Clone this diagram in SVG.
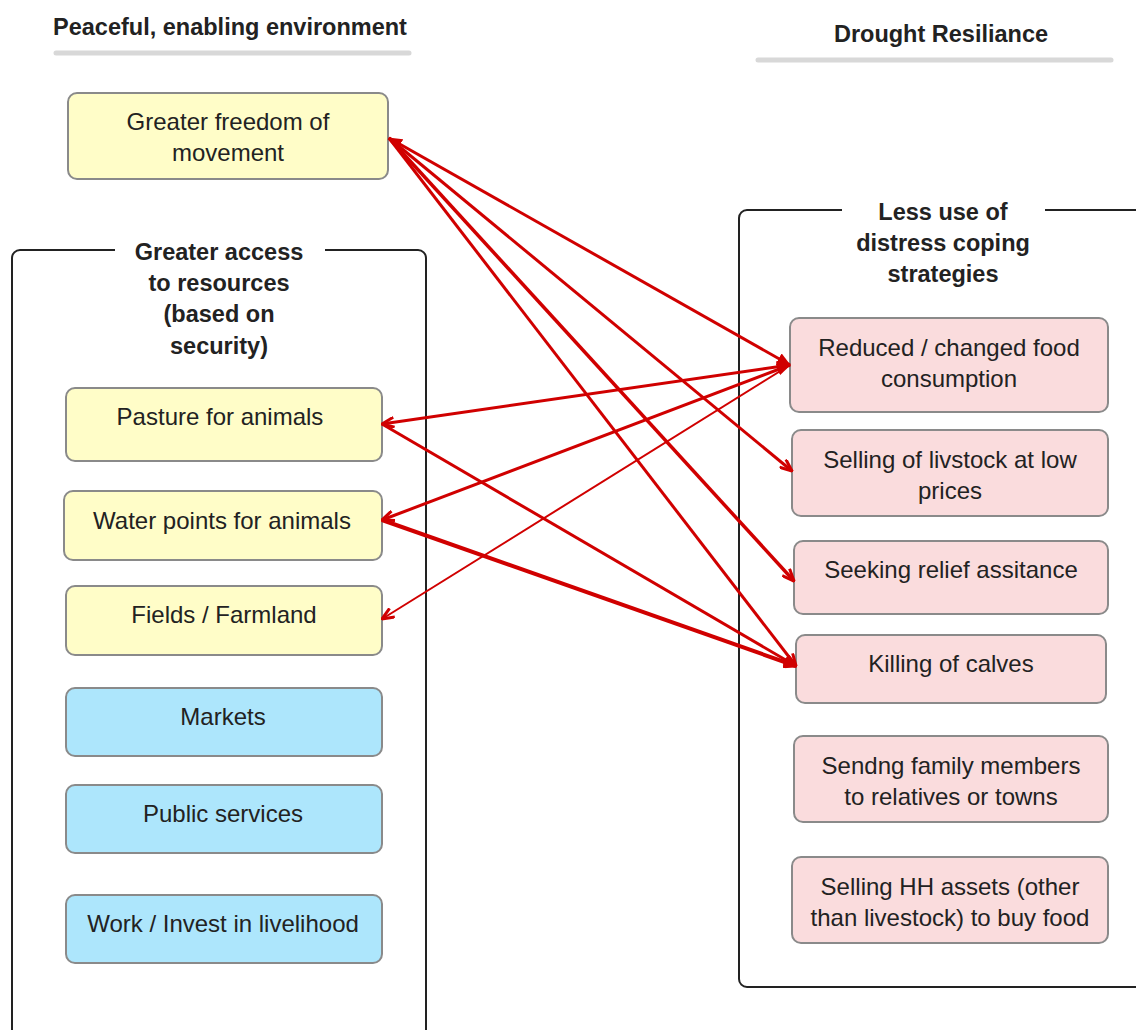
<svg xmlns="http://www.w3.org/2000/svg" width="1136" height="1030" viewBox="0 0 1136 1030">
<style>
.t{font-family:"Liberation Sans",Arial,sans-serif;font-size:24px;fill:#222;text-anchor:middle}
.b{font-weight:bold;font-size:23.5px}
.y{fill:#FFFDC8;stroke:#8a8a8a;stroke-width:2}
.c{fill:#ADE6FC;stroke:#8a8a8a;stroke-width:2}
.p{fill:#FADCDD;stroke:#8a8a8a;stroke-width:2}
.g{fill:none;stroke:#222;stroke-width:2}
.u{stroke:#d8d8d8;stroke-width:5;stroke-linecap:round}
.a{stroke:#D00000;stroke-width:3;fill:none}
</style>
<defs>
<marker id="ah" viewBox="0 0 14 12" markerWidth="14" markerHeight="12" refX="13" refY="6" orient="auto-start-reverse" markerUnits="userSpaceOnUse">
<path d="M1,1 L13,6 L1,11" fill="none" stroke="#D00000" stroke-width="3"/>
</marker>
<marker id="af" viewBox="0 0 14 12" markerWidth="14" markerHeight="12" refX="13" refY="6" orient="auto-start-reverse" markerUnits="userSpaceOnUse">
<path d="M0,0 L14,6 L0,12 Z" fill="#D00000"/>
</marker>
</defs>
<g id="title-left">
<text class="t b" x="230" y="35">Peaceful, enabling environment</text>
<line class="u" x1="56" y1="53" x2="409" y2="53"/>
</g>
<g id="title-right">
<text class="t b" x="941" y="42">Drought Resiliance</text>
<line class="u" x1="758" y1="60" x2="1111" y2="60"/>
</g>
<g id="group-access">
<path class="g" d="M115,250 H20 A8,8 0 0 0 12,258 V1040 M325,250 H418 A8,8 0 0 1 426,258 V1040"/>
<text class="t b" x="219" y="260">Greater access</text>
<text class="t b" x="219" y="291">to resources</text>
<text class="t b" x="219" y="322">(based on</text>
<text class="t b" x="219" y="354">security)</text>
</g>
<g id="group-coping">
<path class="g" d="M842,210 H747 A8,8 0 0 0 739,218 V979 A8,8 0 0 0 747,987 H1140 M1045,210 H1140"/>
<text class="t b" x="943" y="220">Less use of</text>
<text class="t b" x="943" y="251">distress coping</text>
<text class="t b" x="943" y="282">strategies</text>
</g>
<g id="n-freedom"><rect class="y" x="68" y="93" width="320" height="86" rx="9"/><text class="t" x="228" y="130">Greater freedom of</text><text class="t" x="228" y="161">movement</text></g>
<g id="n-pasture"><rect class="y" x="66" y="388" width="316" height="73" rx="9"/><text class="t" x="220" y="425">Pasture for animals</text></g>
<g id="n-water"><rect class="y" x="64" y="491" width="318" height="69" rx="9"/><text class="t" x="222" y="529">Water points for animals</text></g>
<g id="n-fields"><rect class="y" x="66" y="586" width="316" height="69" rx="9"/><text class="t" x="224" y="623">Fields / Farmland</text></g>
<g id="n-markets"><rect class="c" x="66" y="688" width="316" height="68" rx="9"/><text class="t" x="223" y="725">Markets</text></g>
<g id="n-public"><rect class="c" x="66" y="785" width="316" height="68" rx="9"/><text class="t" x="223" y="822">Public services</text></g>
<g id="n-work"><rect class="c" x="66" y="895" width="316" height="68" rx="9"/><text class="t" x="223" y="932">Work / Invest in livelihood</text></g>
<g id="n-reduced"><rect class="p" x="790" y="318" width="318" height="94" rx="9"/><text class="t" x="949" y="356">Reduced / changed food</text><text class="t" x="949" y="387">consumption</text></g>
<g id="n-selling"><rect class="p" x="792" y="430" width="316" height="86" rx="9"/><text class="t" x="950" y="468">Selling of livstock at low</text><text class="t" x="950" y="499">prices</text></g>
<g id="n-relief"><rect class="p" x="794" y="541" width="314" height="73" rx="9"/><text class="t" x="951" y="578">Seeking relief assitance</text></g>
<g id="n-calves"><rect class="p" x="796" y="635" width="310" height="68" rx="9"/><text class="t" x="951" y="672">Killing of calves</text></g>
<g id="n-family"><rect class="p" x="794" y="736" width="314" height="86" rx="9"/><text class="t" x="951" y="774">Sendng family members</text><text class="t" x="951" y="805">to relatives or towns</text></g>
<g id="n-assets"><rect class="p" x="792" y="857" width="316" height="86" rx="9"/><text class="t" x="950" y="895">Selling HH assets (other</text><text class="t" x="950" y="926">than livestock) to buy food</text></g>
<g id="connectors">
<line class="a" x1="389" y1="138" x2="790" y2="365" marker-start="url(#af)" marker-end="url(#af)"/>
<line class="a" x1="389" y1="138" x2="792" y2="471" marker-end="url(#ah)"/>
<line class="a" x1="389" y1="138" x2="794" y2="581" style="stroke-width:3.5" marker-end="url(#ah)"/>
<line class="a" x1="389" y1="138" x2="796" y2="666" marker-end="url(#ah)"/>
<line class="a" x1="382" y1="424" x2="790" y2="365" marker-start="url(#ah)" marker-end="url(#af)"/>
<line class="a" x1="382" y1="520" x2="790" y2="365" marker-start="url(#ah)" marker-end="url(#af)"/>
<line class="a" x1="382" y1="619" x2="790" y2="365" style="stroke-width:2" marker-start="url(#ah)"/>
<line class="a" x1="382" y1="424" x2="796" y2="666" marker-end="url(#ah)"/>
<line class="a" x1="382" y1="520" x2="796" y2="666" style="stroke-width:4" marker-end="url(#ah)"/>
</g>
</svg>
